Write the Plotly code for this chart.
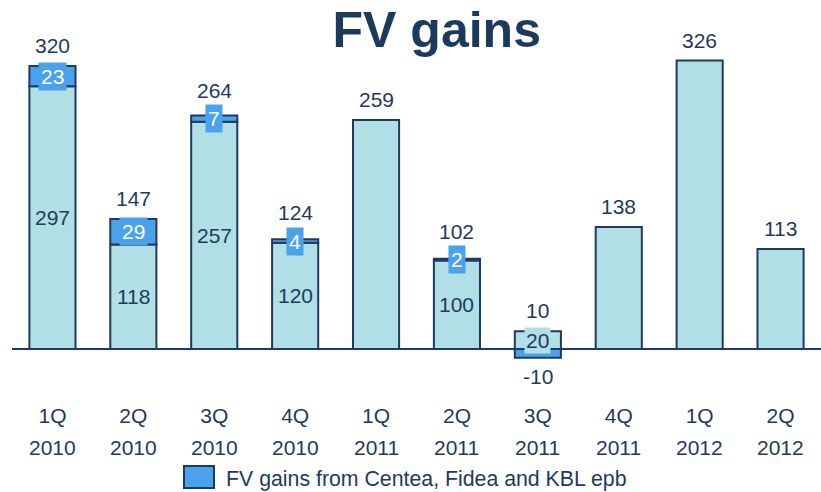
import plotly.graph_objects as go

########### Data ######
quarters = ['1Q', '2Q', '3Q', '4Q', '1Q', '2Q', '3Q', '4Q', '1Q', '2Q']
years = ['2010', '2010', '2010', '2010', '2011', '2011', '2011', '2011', '2012', '2012']
base_vals = [297, 118, 257, 120, 259, 100, 20, 138, 326, 113]
fv_vals = [23, 29, 7, 4, None, 2, -10, None, None, None]
legend_name = 'FV gains from Centea, Fidea and KBL epb'

########### Styles ######
NAVY = '#1f3a60'
LIGHT = '#b0dfe5'
BLUE = '#4aa3ea'
FONT = 'Liberation Sans, Arial, sans-serif'
FS = 21

PW, PH, L, T = 809, 348, 12, 50
YMIN, YMAX = -55.4, 338
PXU = PH / (YMAX - YMIN)  # pixels per unit

x = list(range(len(quarters)))
fv_plot = [v if v is not None else 0 for v in fv_vals]
totals = [b + f for b, f in zip(base_vals, fv_plot)]
tops = [b + max(f, 0) for b, f in zip(base_vals, fv_plot)]

fig = go.Figure()
fig.add_trace(go.Bar(x=x, y=base_vals, marker=dict(color=LIGHT, line=dict(color=NAVY, width=2)),
                     width=0.57, showlegend=False, hoverinfo='y'))
fig.add_trace(go.Bar(x=x, y=fv_vals, marker=dict(color=BLUE, line=dict(color=NAVY, width=2)),
                     width=0.57, name=legend_name, showlegend=False, hoverinfo='y'))

annos = []
for i in x:
    f = fv_vals[i]
    # push the total up a bit when a small FV box sticks out above the bar
    shift = 7
    if f is not None and f > 0:
        stick = 13 - f * PXU / 2
        shift = max(shift, stick + 2)
    annos.append(dict(x=i, y=tops[i], text=str(totals[i]), showarrow=False, yanchor='bottom',
                      yshift=shift, font=dict(size=FS, color=NAVY)))
    if f is None:
        continue
    # base label in the middle of the base segment
    annos.append(dict(x=i, y=base_vals[i] / 2, text=str(base_vals[i]), showarrow=False,
                      bgcolor=LIGHT, borderpad=1, font=dict(size=FS, color=NAVY)))
    if f > 0:
        annos.append(dict(x=i, y=base_vals[i] + f / 2, text=str(f), showarrow=False,
                          bgcolor=BLUE, borderpad=2, font=dict(size=FS, color='white')))
    else:
        annos.append(dict(x=i, y=f, text=str(f), showarrow=False, yanchor='top', yshift=-5,
                          font=dict(size=FS, color=NAVY)))

# year row under the quarter tick labels
for i in x:
    annos.append(dict(x=i, y=0, xref='x', yref='paper', text=years[i], showarrow=False,
                      yanchor='middle', yshift=-49, font=dict(size=FS, color=NAVY)))

# legend drawn by hand (bigger swatch than plotly's)
def px_x(p): return (p - L) / PW
def px_y(p): return (T + PH - p) / PH
annos.append(dict(x=px_x(224), y=px_y(479), xref='paper', yref='paper', text=legend_name,
                  showarrow=False, xanchor='left', yanchor='middle', font=dict(size=21.3, color=NAVY)))

fig.update_layout(
    width=821, height=492,
    margin=dict(l=L, r=821 - L - PW, t=T, b=492 - T - PH),
    plot_bgcolor='white', paper_bgcolor='white',
    barmode='relative',
    font=dict(family=FONT, color=NAVY),
    title=dict(text='<b>FV gains</b>', x=0.532, xanchor='center', y=0.94, yanchor='middle',
               font=dict(size=50, color='#1b3a5c', family=FONT)),
    annotations=annos,
    shapes=[dict(type='rect', xref='paper', yref='paper', x0=px_x(184), x1=px_x(214),
                 y0=px_y(466), y1=px_y(488), fillcolor=BLUE, line=dict(color=NAVY, width=2))],
    xaxis=dict(tickmode='array', tickvals=x, ticktext=quarters, range=[-0.5, 9.5],
               showgrid=False, showline=False, zeroline=False, ticks='',
               tickfont=dict(size=FS, color=NAVY), ticklabelstandoff=3),
    yaxis=dict(range=[YMIN, YMAX], showgrid=False, showticklabels=False, zeroline=True,
               zerolinecolor=NAVY, zerolinewidth=2, showline=False),
)

fig.write_html('out.html', config={'displayModeBar': False},
               post_script="document.body.style.margin='0';")
